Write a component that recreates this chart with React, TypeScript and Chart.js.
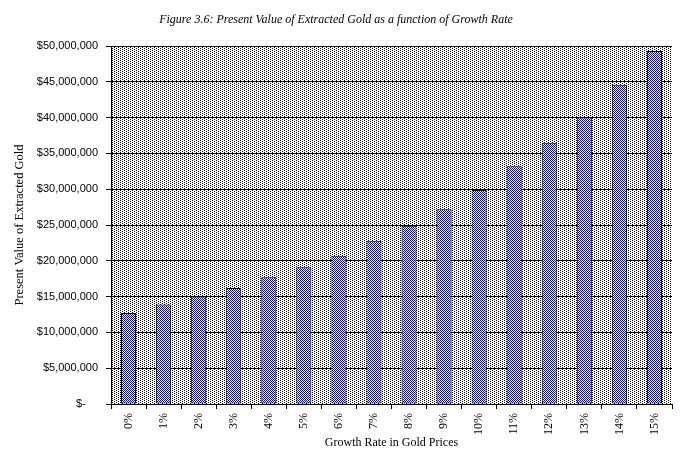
import React, { useEffect, useRef } from 'react';
import { Chart, registerables } from 'chart.js';

Chart.register(...registerables);

const chartTitle = 'Figure 3.6: Present Value of Extracted Gold as a function of Growth Rate';
const xAxisTitle = 'Growth Rate in Gold Prices';
const yAxisTitle = 'Present Value of Extracted Gold';

const growthRates = ['0%', '1%', '2%', '3%', '4%', '5%', '6%', '7%', '8%', '9%', '10%', '11%', '12%', '13%', '14%', '15%'];
const presentValues = [
  12700000, 13900000, 15000000, 16200000, 17700000, 19100000, 20700000, 22800000,
  24900000, 27200000, 29900000, 33200000, 36500000, 40100000, 44600000, 49300000,
];
const yMin = 0;
const yMax = 50000000;
const yStep = 5000000;

function makePattern(
  target: CanvasRenderingContext2D,
  w: number,
  h: number,
  paint: (g: CanvasRenderingContext2D) => void
): CanvasPattern | string {
  const c = document.createElement('canvas');
  c.width = w;
  c.height = h;
  const g = c.getContext('2d');
  if (!g) return '#ccc';
  paint(g);
  return target.createPattern(c, 'repeat') || '#ccc';
}

function formatMoney(v: number): string {
  if (v === 0) return '$-    ';
  return '$' + Math.round(v).toLocaleString('en-US');
}

export default function App() {
  const canvasRef = useRef<HTMLCanvasElement | null>(null);

  useEffect(() => {
    const canvas = canvasRef.current;
    if (!canvas) return;
    const ctx = canvas.getContext('2d');
    if (!ctx) return;

    const dotPattern = makePattern(ctx, 4, 2, (g) => {
      g.fillStyle = '#ffffff';
      g.fillRect(0, 0, 4, 2);
      g.fillStyle = '#000000';
      g.fillRect(0, 0, 1, 1);
      g.fillRect(2, 1, 1, 1);
    });

    const checkPattern = makePattern(ctx, 2, 2, (g) => {
      g.fillStyle = '#ffffff';
      g.fillRect(0, 0, 2, 2);
      g.fillStyle = '#0000ff';
      g.fillRect(0, 0, 1, 1);
      g.fillRect(1, 1, 1, 1);
    });

    const plotBg = {
      id: 'plotBg',
      beforeDraw(chart: any) {
        const { ctx: c, chartArea } = chart;
        if (!chartArea) return;
        c.save();
        c.fillStyle = '#ffffff';
        c.fillRect(0, 0, chart.width, chart.height);
        c.fillStyle = dotPattern;
        c.fillRect(chartArea.left, chartArea.top, chartArea.right - chartArea.left, chartArea.bottom - chartArea.top);
        c.restore();
      },
    };

    const chart = new Chart(ctx, {
      type: 'bar',
      data: {
        labels: growthRates,
        datasets: [
          {
            data: presentValues,
            backgroundColor: checkPattern as any,
            borderColor: '#000000',
            borderWidth: 1,
            borderSkipped: false,
            barPercentage: 0.43,
            categoryPercentage: 1,
          },
        ],
      },
      options: {
        responsive: false,
        animation: false,
        layout: { padding: { left: 0, right: 11, top: 0, bottom: 0 } },
        plugins: {
          legend: { display: false },
          tooltip: { enabled: false },
          title: {
            display: true,
            text: chartTitle,
            color: '#000000',
            font: { family: 'Liberation Serif', style: 'italic', size: 12, weight: 'normal' },
            padding: { top: 12.8, bottom: 18.8 },
          },
        },
        scales: {
          x: {
            type: 'category',
            offset: true,
            grid: {
              offset: true,
              drawOnChartArea: false,
              drawTicks: true,
              tickLength: 5,
              color: '#000000',
            },
            border: { display: true, color: '#000000', width: 1 },
            ticks: {
              autoSkip: false,
              minRotation: 90,
              maxRotation: 90,
              padding: 4,
              color: '#000000',
              font: { family: 'Liberation Serif', size: 12 },
            },
            title: {
              display: true,
              text: xAxisTitle,
              color: '#000000',
              font: { family: 'Liberation Serif', size: 12 },
              padding: { top: 0, bottom: 16.8 },
            },
            afterFit: (s: any) => {
              s.height = 63;
            },
          },
          y: {
            min: yMin,
            max: yMax,
            grid: {
              color: '#000000',
              tickLength: 5,
              lineWidth: 1,
            },
            border: { display: true, color: '#000000', width: 1 },
            ticks: {
              stepSize: yStep,
              padding: 8,
              color: '#000000',
              font: { family: 'Liberation Sans', size: 11 },
              callback: (v: any) => formatMoney(Number(v)),
            },
            title: {
              display: true,
              text: yAxisTitle,
              color: '#000000',
              font: { family: 'Liberation Serif', size: 12.5 },
              padding: { top: 12.5, bottom: 0 },
            },
            afterFit: (s: any) => {
              s.width = 111;
            },
          },
        },
      },
      plugins: [plotBg],
    } as any);

    return () => {
      chart.destroy();
    };
  }, []);

  return (
    <div style={{ position: 'absolute', left: 0, top: 0, width: 683, height: 467, background: '#fff' }}>
      <canvas ref={canvasRef} width={683} height={467} style={{ display: 'block', width: 683, height: 467 }} />
    </div>
  );
}
